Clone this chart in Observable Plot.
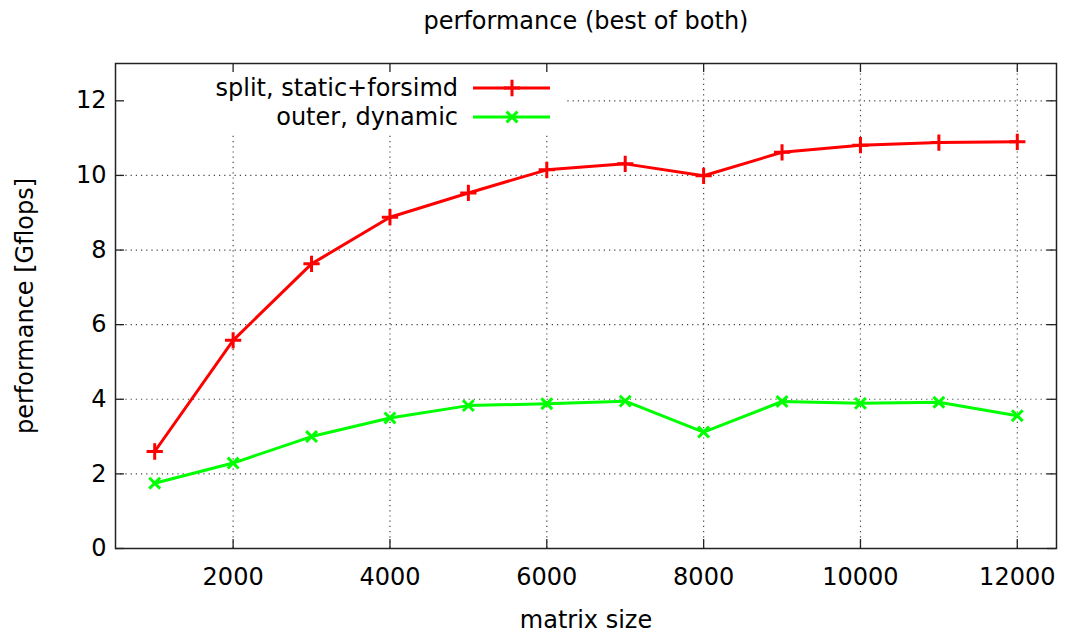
<!DOCTYPE html>
<html><head><meta charset="utf-8">
<script src="https://cdn.jsdelivr.net/npm/d3@7"></script>
<script src="https://cdn.jsdelivr.net/npm/@observablehq/plot@0.6"></script>
<style>body{margin:0;background:#fff}</style>
</head><body><div id="chart"></div>
<script>
const sizes = [1000, 2000, 3000, 4000, 5000, 6000, 7000, 8000, 9000, 10000, 11000, 12000];
const splitStatic = [2.60, 5.58, 7.63, 8.88, 9.53, 10.15, 10.31, 9.99, 10.62, 10.81, 10.88, 10.90];
const outerDynamic = [1.75, 2.29, 3.00, 3.50, 3.83, 3.88, 3.95, 3.12, 3.94, 3.89, 3.92, 3.56];
const xTicks = [2000, 4000, 6000, 8000, 10000, 12000];
const yTicks = [0, 2, 4, 6, 8, 10, 12];
const seriesNames = ["split, static+forsimd", "outer, dynamic"];
const seriesColors = ["#ff0000", "#00ff00"];
const seriesSymbols = ["plus", "times"];
const titleText = "performance (best of both)";
const xLabel = "matrix size";
const yLabel = "performance [Gflops]";

const W = 1066, H = 637, mL = 115, mR = 10, mT = 63, mB = 89;
const pw = W - mL - mR, ph = H - mT - mB;
const tickLen = 9;
const FONT = "DejaVu Sans";
const rPlus = 5.3, rTimes = 5.0;

const rows = sizes.flatMap((s, i) => [
  {size: s, perf: splitStatic[i], series: seriesNames[0]},
  {size: s, perf: outerDynamic[i], series: seriesNames[1]}
]);

function legendBg(index, scales, values, dims) {
  const g = d3.create("svg:g");
  g.append("rect")
    .attr("x", dims.marginLeft + 1).attr("y", dims.marginTop + 1)
    .attr("width", 448).attr("height", 70)
    .attr("fill", "white");
  return g.node();
}

function legendItems(index, scales, values, dims) {
  const g = d3.create("svg:g");
  const d3sym = {plus: d3.symbolPlus, times: d3.symbolTimes};
  const sizesSym = {plus: Math.PI * rPlus * rPlus, times: Math.PI * rTimes * rTimes};
  seriesNames.forEach((name, i) => {
    const y = dims.marginTop + 25 + i * 29;
    g.append("text")
      .attr("x", 458).attr("y", y).attr("dy", "0.35em")
      .attr("text-anchor", "end")
      .attr("font-family", FONT).attr("font-size", 24)
      .attr("fill", "black")
      .text(name);
    g.append("line")
      .attr("x1", 473).attr("x2", 550).attr("y1", y).attr("y2", y)
      .attr("stroke", seriesColors[i]).attr("stroke-width", 3);
    g.append("path")
      .attr("transform", `translate(512,${y})`)
      .attr("d", d3.symbol(d3sym[seriesSymbols[i]], sizesSym[seriesSymbols[i]])())
      .attr("fill", "none").attr("stroke", seriesColors[i]).attr("stroke-width", 3);
  });
  return g.node();
}

const plot = Plot.plot({
  width: W, height: H,
  marginLeft: mL, marginRight: mR, marginTop: mT, marginBottom: mB,
  style: {fontFamily: FONT, fontSize: "24px", background: "white", color: "black"},
  x: {domain: [500, 12500], ticks: xTicks, tickSize: 0, tickPadding: 19, tickFormat: "d", label: null},
  y: {domain: [0, 13], ticks: yTicks, tickSize: 0, tickPadding: 9, tickFormat: "d", label: null},
  color: {domain: seriesNames, range: seriesColors},
  symbol: {domain: seriesNames, range: seriesSymbols},
  marks: [
    Plot.ruleX(xTicks, {x: d => d, stroke: "#444", strokeWidth: 1.2, strokeDasharray: "1.2,4"}),
    Plot.ruleY(yTicks, {y: d => d, stroke: "#444", strokeWidth: 1.2, strokeDasharray: "1.2,4"}),
    legendBg,
    Plot.tickX(xTicks, {x: d => d, insetTop: ph - tickLen, stroke: "#222", strokeWidth: 1.3}),
    Plot.tickX(xTicks, {x: d => d, insetBottom: ph - tickLen, stroke: "#222", strokeWidth: 1.3}),
    Plot.tickY(yTicks, {y: d => d, insetRight: pw - tickLen, stroke: "#222", strokeWidth: 1.3}),
    Plot.tickY(yTicks, {y: d => d, insetLeft: pw - tickLen, stroke: "#222", strokeWidth: 1.3}),
    Plot.frame({stroke: "#222", strokeWidth: 1.5}),
    Plot.line(rows, {x: "size", y: "perf", z: "series", stroke: "series", strokeWidth: 3}),
    Plot.dot(rows.filter(d => d.series === seriesNames[0]), {x: "size", y: "perf", symbol: "series", stroke: "series", r: rPlus, strokeWidth: 3}),
    Plot.dot(rows.filter(d => d.series === seriesNames[1]), {x: "size", y: "perf", symbol: "series", stroke: "series", r: rTimes, strokeWidth: 3}),
    legendItems,
    Plot.text([titleText], {frameAnchor: "top", dy: -42, lineAnchor: "middle", fontSize: 24, fill: "black"}),
    Plot.text([xLabel], {frameAnchor: "bottom", dy: 72, lineAnchor: "middle", fontSize: 24, fill: "black"}),
    Plot.text([yLabel], {frameAnchor: "left", dx: -90, rotate: -90, textAnchor: "middle", lineAnchor: "middle", fontSize: 24, fill: "black"})
  ]
});
document.getElementById("chart").appendChild(plot);
</script>
</body></html>
